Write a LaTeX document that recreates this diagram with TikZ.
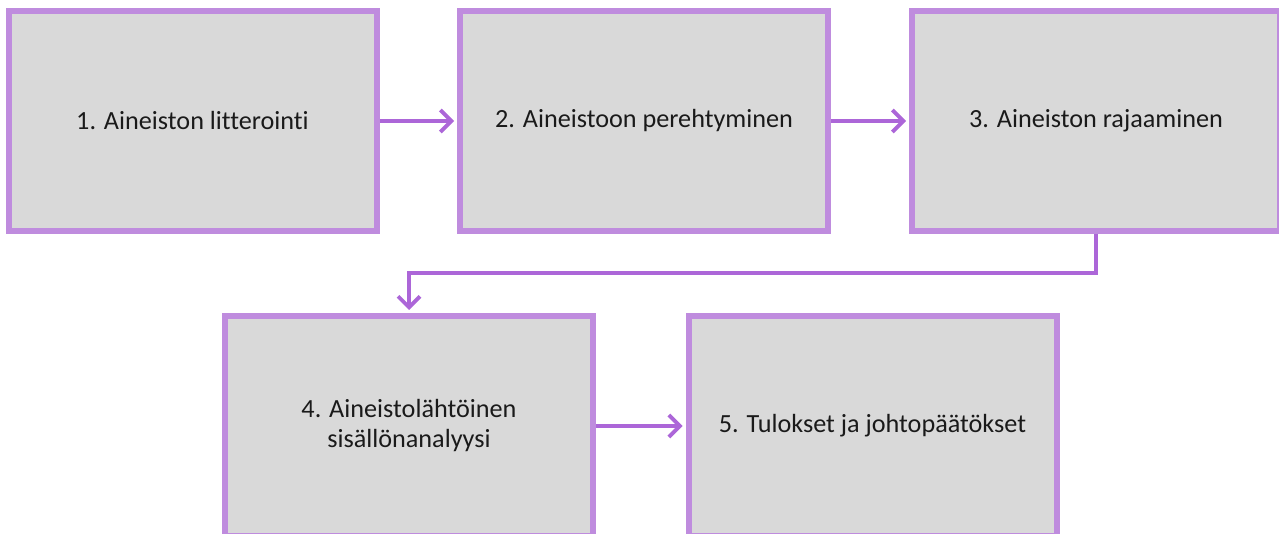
\documentclass[tikz,border=0pt]{standalone}
\usepackage{fontspec}
\setmainfont{Carlito}[Ligatures={NoCommon}]
\usetikzlibrary{arrows.meta}
\definecolor{boxfill}{RGB}{217,217,217}
\definecolor{boxedge}{RGB}{191,140,222}
\definecolor{flow}{RGB}{172,102,216}
\definecolor{inkgray}{RGB}{26,26,26}
\tikzset{
  stepbox/.style={draw=boxedge, fill=boxfill, line width=6pt,
    minimum width=368pt, minimum height=220pt, inner sep=0pt,
    text=inkgray, align=center,
    font=\fontsize{26.2}{30}\selectfont},
  flowarrow/.style={draw=flow, line width=3.8pt,
    -{Straight Barb[length=11pt,width=22pt,line width=3.8pt]}, shorten >=3pt}
}
\begin{document}
\begin{tikzpicture}[x=1pt,y=-1pt]
  \useasboundingbox (0,0) rectangle (1279,534);
  % top row
  \node[stepbox] (b1) at (192.5,121) {1. Aineiston litterointi};
  \node[stepbox] (b2) at (644,121) {2. Aineistoon perehtyminen};
  \node[stepbox] (b3) at (1096,121) {3. Aineiston rajaaminen};
  % bottom row
  \node[stepbox] (b4) at (409,426) {4. Aineistolähtöinen\\sisällönanalyysi};
  \node[stepbox] (b5) at (872.5,426) {5. Tulokset ja johtopäätökset};
  % connectors
  \coordinate (turn) at (0,273);
  \draw[flowarrow] (b1.east) -- (b2.west);
  \draw[flowarrow] (b2.east) -- (b3.west);
  \draw[flowarrow] (b3.south) |- (turn -| b4.north) -- (b4.north);
  \draw[flowarrow] (b4.east) -- (b5.west);
\end{tikzpicture}
\end{document}
